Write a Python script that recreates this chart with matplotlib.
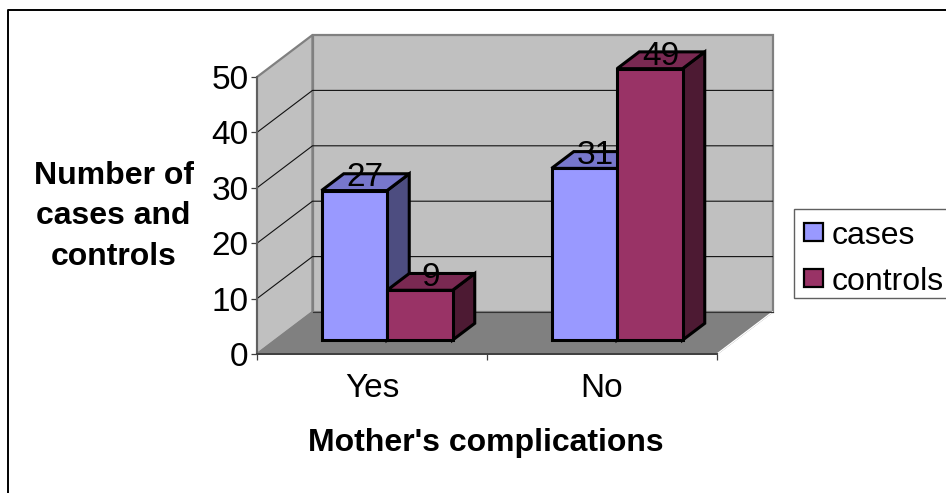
import matplotlib
matplotlib.use("Agg")
import matplotlib.pyplot as plt
from matplotlib.patches import Polygon, Rectangle
from matplotlib.lines import Line2D

plt.rcParams['font.family'] = ['Liberation Sans', 'DejaVu Sans']

categories = ['Yes', 'No']
series_names = ['cases', 'controls']
cases = [27, 31]
controls = [9, 49]
y_ticks = [0, 10, 20, 30, 40, 50]

W, H = 946, 493
fig = plt.figure(figsize=(W / 100, H / 100), dpi=100, facecolor='white')
ax = fig.add_axes([0, 0, 1, 1], facecolor='none')

# front plane of the 3-D box in pixels
X0, Y0, SX, SY = 257, 354, 230, 5.54
ax.set_xlim(-X0 / SX, (W - X0) / SX)
ax.set_ylim((Y0 - H) / SY, Y0 / SY)
DX, DY = 55.5 / SX, 42 / SY   # oblique depth offset in data units
XMAX = len(categories)
YMAX = y_ticks[-1]


def P(x, v, t=0.0):
    return (x + t * DX, v + t * DY)


def face(pts, fc, ec, lw, z):
    ax.add_patch(Polygon(pts, closed=True, fc=fc, ec=ec, lw=lw, zorder=z, joinstyle='miter'))


# walls and floor
face([P(0, 0), P(0, 0, 1), P(0, YMAX, 1), P(0, YMAX)], '#C0C0C0', '#808080', 1.6, 1)
face([P(0, 0, 1), P(XMAX, 0, 1), P(XMAX, YMAX, 1), P(0, YMAX, 1)], '#C0C0C0', '#808080', 1.6, 1)
face([P(0, 0), P(XMAX, 0), P(XMAX, 0, 1), P(0, 0, 1)], '#808080', '#808080', 1.0, 2)
ax.add_line(Line2D(*zip(P(XMAX, 0), P(XMAX, 0, 1)), color='white', lw=1.0, zorder=2.5))
ax.add_line(Line2D(*zip(P(0, 0, 1), P(XMAX, 0, 1)), color='#333333', lw=0.8, zorder=2.5))

for v in y_ticks[1:-1]:
    ax.plot(*zip(P(0, v), P(0, v, 1), P(XMAX, v, 1)), color='#111111', lw=0.8, zorder=1.5)

# bars
BW, GAP, T0, T1 = 65.5 / SX, 0.201, 0.33, 0.73
styles = [('#9999FF', '#7777CC', '#4D4D80'), ('#993366', '#7A2952', '#4D1A33')]
labels = []
z = 3
for i in range(len(categories)):
    for s, vals in enumerate([cases, controls]):
        v = vals[i]
        x0 = i + GAP + s * BW
        x1 = x0 + BW
        front, top, side = styles[s]
        face([P(x1, 0, T0), P(x1, 0, T1), P(x1, v, T1), P(x1, v, T0)], side, 'black', 2.2, z)
        face([P(x0, v, T0), P(x1, v, T0), P(x1, v, T1), P(x0, v, T1)], top, 'black', 2.2, z)
        face([P(x0, 0, T0), P(x1, 0, T0), P(x1, v, T0), P(x0, v, T0)], front, 'black', 2.2, z)
        z += 0.1
        labels.append((P((x0 + x1) / 2 - 6 / SX, v, 0.63), v))
for (lx, ly), v in labels:
    ax.text(lx, ly, str(v), ha='center', va='center', fontsize=24, color='black', zorder=10)

# real axes
for side in ('top', 'right'):
    ax.spines[side].set_visible(False)
ax.spines['left'].set_position(('data', 0))
ax.spines['bottom'].set_position(('data', 0))
ax.spines['left'].set_bounds(0, YMAX)
ax.spines['bottom'].set_bounds(0, XMAX)
ax.spines['left'].set_color('#606060')
ax.spines['bottom'].set_color('#404040')
ax.spines['left'].set_linewidth(1.4)
ax.spines['bottom'].set_linewidth(1.4)
ax.spines['left'].set_zorder(2.6)
ax.spines['bottom'].set_zorder(2.6)
ax.set_yticks(y_ticks)
ax.set_yticklabels([str(t) for t in y_ticks], fontsize=24)
ax.set_xticks(range(XMAX + 1))
ax.set_xticklabels([''] * (XMAX + 1))
ax.set_xticks([i + 0.5 for i in range(XMAX)], minor=True)
ax.set_xticklabels(categories, minor=True, fontsize=24)
ax.tick_params(axis='both', which='major', length=4, width=0.9, color='#404040', pad=2)
ax.tick_params(axis='x', which='minor', length=0, pad=14)


def fx(px):
    return px / W


def fy(py):
    return 1 - py / H


# titles
fig.text(fx(113.5), fy(216.5), 'Number of\ncases and\ncontrols', ha='center', va='center',
         fontsize=23, fontweight='bold', linespacing=1.46)
fig.text(fx(486), fy(443), "Mother's complications", ha='center', va='center',
         fontsize=23, fontweight='bold')

# outer chart border (runs off the right and bottom edges)
fig.add_artist(Line2D([fx(7.5), fx(7.5), fx(W + 5)], [fy(H + 5), fy(9.5), fy(9.5)], color='black', lw=1.4))

# legend box
fig.add_artist(Rectangle((fx(793.5), fy(298)), (W + 5 - 793.5) / W, 89 / H, transform=fig.transFigure,
                         fc='white', ec='#606060', lw=1.0))
for s, (name, py) in enumerate(zip(series_names, [232, 278])):
    fig.add_artist(Rectangle((fx(803.5), fy(py + 9)), 19 / W, 18 / H, transform=fig.transFigure,
                             fc=styles[s][0], ec='black', lw=1.6))
    fig.text(fx(832), fy(py + 4), name, ha='left', va='center', fontsize=23)

fig.savefig('out.png', dpi=100)
